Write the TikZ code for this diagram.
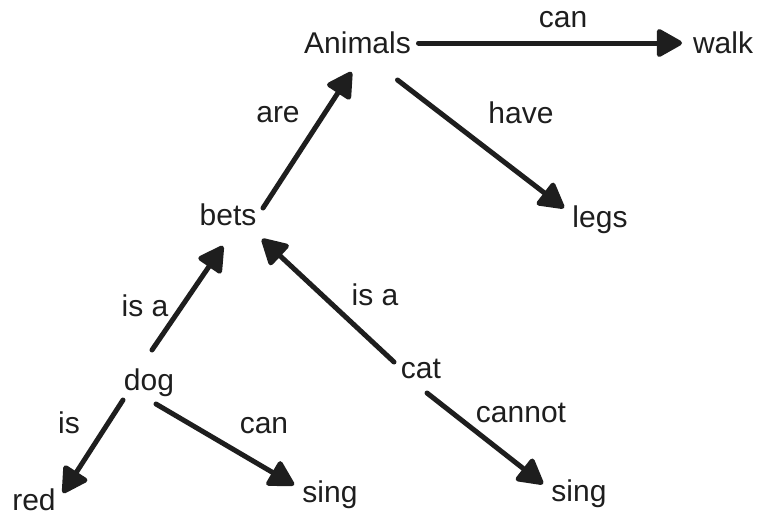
\documentclass[tikz,border=0pt]{standalone}
\usepackage{fontspec}
\setmainfont{Liberation Sans}
\usetikzlibrary{arrows.meta}
\definecolor{ink}{HTML}{1E1E1E}
\tikzset{
  word/.style={anchor=base, inner sep=0pt, text=ink, font=\fontsize{30}{36}\selectfont},
  rel/.style={anchor=base, inner sep=0pt, text=ink, font=\fontsize{30}{36}\selectfont},
  link/.style={draw=ink, line width=5pt, line cap=round,
    -{Triangle[length=28pt, width=30pt, round]}, fill=ink}
}
\begin{document}
\begin{tikzpicture}[x=1pt, y=-1pt]
\useasboundingbox (0,0) rectangle (760,515);

% concepts
\node[word] (animals) at (357.5,53) {Animals};
\node[word] (walk)    at (723,53)   {walk};
\node[word] (legs)    at (600,227)  {legs};
\node[word] (bets)    at (228,225)  {bets};
\node[word] (dog)     at (149,390)  {dog};
\node[word] (cat)     at (421,378)  {cat};
\node[word] (red)     at (34,510)   {red};
\node[word] (singA)   at (330,502)  {sing};
\node[word] (singB)   at (579,501)  {sing};

% relation labels
\node[rel] (lcanA)   at (563,27)  {can};
\node[rel] (lhave)   at (521,123) {have};
\node[rel] (lare)    at (278,122) {are};
\node[rel] (lisaA)   at (145,316) {is a};
\node[rel] (lisaB)   at (375,305) {is a};
\node[rel] (lis)     at (69,433)  {is};
\node[rel] (lcanB)   at (264,433) {can};
\node[rel] (lcannot) at (521,422) {cannot};

% relations
\draw[link] ([shift={(61,-10)}]animals.base) -- ([shift={(-41,-10)}]walk.base);
\draw[link] ([shift={(40,27)}]animals.base)  -- ([shift={(-36,-19)}]legs.base);
\draw[link] ([shift={(35,-17)}]bets.base)    -- ([shift={(-6,19)}]animals.base);
\draw[link] ([shift={(3,-40)}]dog.base)      -- ([shift={(-5,21)}]bets.base);
\draw[link] ([shift={(-27,-16)}]cat.base)    -- ([shift={(34,14)}]bets.base);
\draw[link] ([shift={(6,15)}]cat.base)       -- ([shift={(-36,-17)}]singB.base);
\draw[link] ([shift={(-26,10)}]dog.base)     -- ([shift={(29,-17)}]red.base);
\draw[link] ([shift={(7,14)}]dog.base)       -- ([shift={(-36,-17)}]singA.base);
\end{tikzpicture}
\end{document}
